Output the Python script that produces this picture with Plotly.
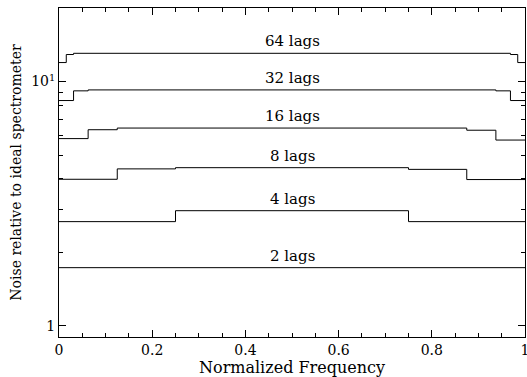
import plotly.graph_objects as go
import math

# Step edges (normalized frequency) and channel noise values for each lag count
lags2_edges = [0, 0.5, 1]
lags2_vals = [1.73, 1.73]

lags4_edges = [0, 0.25, 0.5, 0.75, 1]
lags4_vals = [2.67, 2.96, 2.96, 2.67]

lags8_edges = [0, 0.125, 0.25, 0.75, 0.875, 1]
lags8_vals = [3.98, 4.39, 4.44, 4.37, 3.97]

lags16_edges = [0, 0.0625, 0.125, 0.875, 0.9375, 1]
lags16_vals = [5.84, 6.35, 6.45, 6.32, 5.76]

lags32_edges = [0, 0.03125, 0.0625, 0.9375, 0.96875, 1]
lags32_vals = [8.36, 9.16, 9.24, 9.16, 8.36]

lags64_edges = [0, 0.015625, 0.03125, 0.96875, 0.984375, 1]
lags64_vals = [11.96, 12.9, 13.05, 12.9, 11.96]

series = [
    ("2 lags", lags2_edges, lags2_vals),
    ("4 lags", lags4_edges, lags4_vals),
    ("8 lags", lags8_edges, lags8_vals),
    ("16 lags", lags16_edges, lags16_vals),
    ("32 lags", lags32_edges, lags32_vals),
    ("64 lags", lags64_edges, lags64_vals),
]

x_ticks = [0, 0.2, 0.4, 0.6, 0.8, 1]
x_tick_labels = ["0", "0.2", "0.4", "0.6", "0.8", "1"]
y_ticks = [1, 10]
y_tick_labels = ["1", "10<sup>1</sup>"]
y_minor = [2, 3, 4, 5, 6, 7, 8, 9, 20]

FONT = "DejaVu Serif"

fig = go.Figure()
for name, edges, vals in series:
    fig.add_trace(go.Scatter(
        x=edges, y=vals + [vals[-1]], mode="lines", line_shape="hv",
        line=dict(color="black", width=1), name=name, showlegend=False,
        hoverinfo="skip"))
    mid = vals[len(vals) // 2]
    fig.add_annotation(x=0.5, y=math.log10(mid), text=name, showarrow=False,
                       yanchor="bottom", yshift=1,
                       font=dict(family=FONT, size=15, color="black"))

fig.update_layout(
    width=527, height=377,
    margin=dict(l=59, r=2, t=8, b=40, autoexpand=False),
    plot_bgcolor="white", paper_bgcolor="white",
    font=dict(family=FONT, color="black", size=14),
)
fig.update_xaxes(
    range=[0, 1], tickvals=x_ticks, ticktext=x_tick_labels,
    ticks="inside", ticklen=7, tickwidth=1, tickcolor="black",
    showline=True, linecolor="black", linewidth=1, mirror="ticks",
    showgrid=False, zeroline=False, automargin=False, ticklabeloverflow="allow",
    minor=dict(ticks="inside", ticklen=4, dtick=0.05, tick0=0, tickcolor="black", showgrid=False),
    tickfont=dict(family=FONT, size=14),
    title=dict(text="Normalized Frequency", font=dict(family=FONT, size=16), standoff=2),
)
fig.update_yaxes(
    type="log", range=[math.log10(0.9), math.log10(20)],
    tickvals=y_ticks, ticktext=y_tick_labels,
    ticks="inside", ticklen=7, tickwidth=1, tickcolor="black",
    showline=True, linecolor="black", linewidth=1, mirror="ticks",
    showgrid=False, zeroline=False, automargin=False,
    minor=dict(ticks="inside", ticklen=4, tickvals=y_minor, tickcolor="black", showgrid=False),
    tickfont=dict(family=FONT, size=14),
    title=dict(text="Noise relative to ideal spectrometer", font=dict(family=FONT, size=14), standoff=6),
)

fig.write_html("out.html", config={"displayModeBar": False},
               post_script="document.body.style.margin='0';document.body.style.overflow='hidden';")
